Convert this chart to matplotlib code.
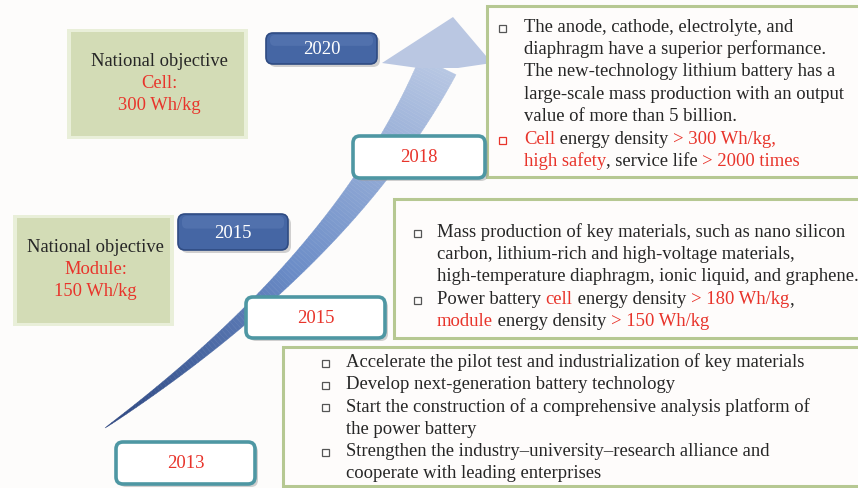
import matplotlib.pyplot as plt
from matplotlib.patches import FancyBboxPatch, Rectangle, Polygon
import numpy as np

plt.rcParams['font.family'] = ['Liberation Serif', 'DejaVu Sans']

# ---- content ----
objective_lines = [
    [("National objective", "k"), ("Cell:", "r"), ("300 Wh/kg", "r")],
    [("National objective", "k"), ("Module:", "r"), ("150 Wh/kg", "r")],
]
pill_years = ["2020", "2015"]
stage_years = ["2018", "2015", "2013"]

# each bullet: list of lines, each line a list of (text, colour key)
box_2018 = [
    [[("The anode, cathode, electrolyte, and", "k")],
     [("diaphragm have a superior performance.", "k")],
     [("The new-technology lithium battery has a", "k")],
     [("large-scale mass production with an output", "k")],
     [("value of more than 5 billion.", "k")]],
    [[("Cell", "r"), (" energy density ", "k"), ("> 300 Wh/kg,", "r")],
     [("high safety", "r"), (", service life ", "k"), ("> 2000 times", "r")]],
]
box_2015 = [
    [[("Mass production of key materials, such as nano silicon", "k")],
     [("carbon, lithium-rich and high-voltage materials,", "k")],
     [("high-temperature diaphragm, ionic liquid, and graphene.", "k")]],
    [[("Power battery ", "k"), ("cell", "r"), (" energy density ", "k"), ("> 180 Wh/kg", "r"), (",", "k")],
     [("module", "r"), (" energy density ", "k"), ("> 150 Wh/kg", "r")]],
]
box_2013 = [
    [[("Accelerate the pilot test and industrialization of key materials", "k")]],
    [[("Develop next-generation battery technology", "k")]],
    [[("Start the construction of a comprehensive analysis platform of", "k")],
     [("the power battery", "k")]],
    [[("Strengthen the industry\u2013university\u2013research alliance and", "k")],
     [("cooperate with leading enterprises", "k")]],
]
bullet_red = [[False, True], [False, False], [False, False, False, False]]

COL = {"k": "#262626", "r": "#e8342b"}
GREEN_FILL = "#d3dcb6"
OLIVE = "#b6c892"
TEAL = "#4e97a3"
PILL = "#4566a4"
FS = 13.4

fig = plt.figure(figsize=(8.58, 4.88), dpi=100)
ax = fig.add_axes([0, 0, 1, 1])
ax.set_xlim(0, 858)
ax.set_ylim(488, 0)
ax.axis('off')
fig.patch.set_facecolor("#fdfcfb")
renderer = fig.canvas.get_renderer()


def rich_line(x, y, segs, size=FS):
    for txt, c in segs:
        t = ax.text(x, y, txt, color=COL[c], fontsize=size, va='center', ha='left', zorder=10)
        bb = t.get_window_extent(renderer=renderer)
        x += bb.width


def rounded(x, y, w, h, fc, ec, lw, r, shadow=True, z=5):
    if shadow:
        ax.add_patch(FancyBboxPatch((x + 3, y + 3), w, h, boxstyle=f"round,pad=0,rounding_size={r}",
                                    fc="#9a9a9a", ec="none", alpha=0.45, zorder=z - 0.5))
    ax.add_patch(FancyBboxPatch((x, y), w, h, boxstyle=f"round,pad=0,rounding_size={r}",
                                fc=fc, ec=ec, lw=lw, zorder=z))


# ---- curved arrow ----
P0, P1, P2 = np.array([105, 428]), np.array([345, 259]), np.array([438, 66])
ts = np.linspace(0, 1, 140)
c_dark, c_mid, c_light = np.array([0.17, 0.27, 0.50]), np.array([0.42, 0.55, 0.78]), np.array([0.72, 0.78, 0.89])
for a, b in zip(ts[:-1], ts[1:]):
    pts = []
    for t in (a, b):
        p = (1 - t) ** 2 * P0 + 2 * (1 - t) * t * P1 + t ** 2 * P2
        d = 2 * (1 - t) * (P1 - P0) + 2 * t * (P2 - P1)
        n = np.array([-d[1], d[0]]) / np.linalg.norm(d)
        w = 17 * t ** 1.1 + 3 * t ** 0.5
        pts.append((p - n * w, p + n * w))
    poly = [pts[0][0], pts[1][0], pts[1][1], pts[0][1]]
    m = (a + b) / 2
    col = c_dark + (c_mid - c_dark) * (m / 0.45) if m < 0.45 else c_mid + (c_light - c_mid) * ((m - 0.45) / 0.55)
    ax.add_patch(Polygon(poly, closed=True, fc=col, ec=col, lw=0.3, zorder=2))
ax.add_patch(Polygon([(382, 63), (453, 17), (492, 63), (458, 68), (418, 68)], closed=True,
                     fc="#bac7e2", ec="none", zorder=2))

# ---- national objective boxes ----
for (x, y, w, h), lines in zip([(67, 29, 181, 110), (13, 215, 161, 111)], objective_lines):
    ax.add_patch(Rectangle((x, y), w, h, fc="#e9efd9", ec="none", zorder=3))
    ax.add_patch(Rectangle((x + 4, y + 3), w - 8, h - 6, fc=GREEN_FILL, ec="none", zorder=3))
    cx = x + w / 2 + 2
    for i, (txt, c) in enumerate(lines):
        ax.text(cx, y + 32 + i * 22.5, txt, color=COL[c], fontsize=13.3, ha='center', va='center', zorder=10)

# ---- blue year pills ----
for (x, y, w, h), yr in zip([(266, 33, 111, 31), (178, 214, 110, 36)], pill_years):
    rounded(x, y, w, h, PILL, "#2f4b82", 1.2, 7)
    ax.add_patch(FancyBboxPatch((x + 4, y + 2), w - 8, h * 0.35, boxstyle="round,pad=0,rounding_size=5",
                                fc="#6f8cc2", ec="none", alpha=0.3, zorder=5.5))
    ax.text(x + w / 2, y + h / 2 + 1, yr, color="white", fontsize=13.5, ha='center', va='center', zorder=10)

# ---- description boxes ----
frames = [(487, 6, 380, 171), (394, 199, 470, 139), (283, 347, 580, 139)]
for (x, y, w, h) in frames:
    ax.add_patch(Rectangle((x, y), w, h, fc="#fefcfb", ec=OLIVE, lw=2.2, zorder=4))

layouts = [(box_2018, 502, 524, 27), (box_2015, 417, 437, 232), (box_2013, 325, 346, 362)]
for k, (items, bx, tx, y0) in enumerate(layouts):
    y = y0
    for j, item in enumerate(items):
        bc = "#e8342b" if bullet_red[k][j] else "#555555"
        ax.add_patch(Rectangle((bx - 3.5, y - 2.5), 7, 7, fc="none", ec=bc, lw=0.9, zorder=10))
        for line in item:
            rich_line(tx, y, line)
            y += 22.4

# ---- white stage year boxes ----
for (x, y, w, h), yr in zip([(353, 136, 132, 42), (246, 297, 139, 41), (116, 442, 139, 42)], stage_years):
    rounded(x, y, w, h, "white", TEAL, 2.6, 7, z=7)
    ax.text(x + w / 2, y + h / 2 + 1, yr, color=COL["r"], fontsize=13.5, ha='center', va='center', zorder=10)

fig.savefig("out.png", dpi=100, facecolor=fig.get_facecolor())
